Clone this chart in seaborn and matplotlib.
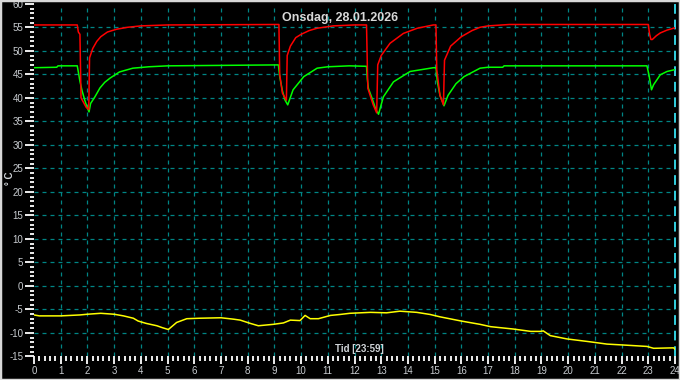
import matplotlib
matplotlib.use("Agg")
import matplotlib.pyplot as plt
import seaborn as sns
import pandas as pd
from matplotlib.ticker import MultipleLocator, FixedLocator
from matplotlib.patches import Rectangle

title = "Onsdag, 28.01.2026"
x_label = "Tid [23:59]"
y_label = "° C"
x_ticks = list(range(0, 25))
y_ticks = list(range(-15, 61, 5))

# Red series (hour, °C)
red_h = [0.0, 1.62, 1.66, 1.72, 1.76, 1.95, 2.05, 2.08, 2.2, 2.35, 2.5, 2.75, 3.1, 3.5, 4.0, 5.0,
         9.17, 9.2, 9.3, 9.45, 9.48, 9.6, 9.8, 10.0, 10.3, 10.6, 11.2, 12.0,
         12.45, 12.48, 12.5, 12.7, 12.83, 12.87, 13.0, 13.33, 13.83, 14.35, 14.95,
         15.05, 15.08, 15.2, 15.33, 15.37, 15.6, 16.0, 16.4, 16.7, 17.0, 17.8,
         23.0, 23.05, 23.1, 23.15, 23.3, 23.45, 23.7, 24.0]
red_v = [55.5, 55.5, 54.0, 53.5, 40.0, 38.0, 37.5, 48.5, 50.5, 52.0, 53.0, 54.0, 54.6, 55.0, 55.3, 55.5,
         55.6, 45.0, 41.0, 39.5, 49.0, 51.0, 52.8, 53.5, 54.3, 54.8, 55.3, 55.5,
         55.5, 47.0, 42.0, 38.5, 36.8, 47.0, 49.0, 51.6, 53.7, 54.8, 55.5,
         55.5, 46.0, 40.5, 38.5, 48.0, 51.0, 53.0, 54.3, 55.0, 55.3, 55.6,
         55.6, 53.5, 52.4, 52.4, 53.2, 53.8, 54.4, 54.9]

# Green series (hour, °C)
green_h = [0.0, 0.85, 0.9, 1.62, 1.66, 1.72, 1.8, 1.9, 2.0, 2.06, 2.12, 2.28, 2.47, 2.65, 2.85, 3.2, 3.7, 4.3, 5.0,
           9.15, 9.2, 9.3, 9.4, 9.5, 9.7, 10.1, 10.6, 11.0, 11.8,
           12.45, 12.48, 12.52, 12.65, 12.8, 12.9, 13.08, 13.46, 14.08, 14.95,
           15.05, 15.1, 15.2, 15.35, 15.5, 15.8, 16.1, 16.7, 17.0, 17.55, 17.6,
           22.95, 23.02, 23.12, 23.2, 23.45, 23.7, 24.0]
green_v = [46.4, 46.5, 46.8, 46.8, 45.5, 43.5, 41.5, 39.5, 37.8, 37.0, 38.8, 40.2, 42.1, 43.3, 44.2, 45.5, 46.3, 46.6, 46.8,
           47.0, 44.5, 41.5, 39.5, 38.5, 41.7, 44.5, 46.3, 46.6, 46.8,
           46.7, 44.0, 42.0, 40.0, 37.5, 36.5, 40.2, 43.4, 45.6, 46.4,
           46.4, 43.5, 40.5, 38.3, 40.5, 43.0, 44.5, 46.3, 46.5, 46.5, 46.8,
           46.8, 45.0, 41.7, 42.8, 44.9, 45.6, 46.0]

# Yellow series, outdoor (hour, °C)
out_h = [0.0, 0.2, 1.0, 1.72, 2.0, 2.5, 3.0, 3.35, 3.72, 3.9, 4.2, 4.6, 4.8, 5.03, 5.34, 5.72, 6.2, 7.0,
         7.47, 7.72, 8.1, 8.4, 8.96, 9.34, 9.6, 9.96, 10.15, 10.34, 10.65, 11.1, 11.46, 11.83, 12.6,
         13.2, 13.7, 14.33, 14.83, 15.2, 16.0, 16.7, 17.1, 17.95, 18.6, 18.95, 19.07, 19.33, 19.95,
         20.8, 21.45, 22.07, 22.95, 23.2, 23.95, 24.0]
out_v = [-6.2, -6.4, -6.4, -6.2, -6.05, -5.85, -6.05, -6.4, -6.9, -7.5, -8.0, -8.5, -8.9, -9.3, -7.8, -7.0, -6.9, -6.8,
         -7.1, -7.3, -8.0, -8.5, -8.2, -7.9, -7.3, -7.4, -6.3, -7.0, -7.0, -6.3, -6.1, -5.85, -5.65,
         -5.75, -5.4, -5.65, -6.1, -6.6, -7.5, -8.2, -8.7, -9.2, -9.7, -9.7, -9.6, -10.6, -11.3,
         -11.9, -12.4, -12.6, -12.9, -13.3, -13.2, -13.5]

W, H = 680, 380
fig = plt.figure(figsize=(6.8, 3.8), dpi=100, facecolor="black")
ax = fig.add_axes([34 / W, 1 - 356.3 / H, 641 / W, 352.5 / H])
ax.set_facecolor("black")

grid_c = "#008585"
for h in range(1, 24):
    ax.axvline(h, color=grid_c, lw=0.9, ls=(0, (3.2, 3.2)), zorder=1)
for v in range(-10, 60, 5):
    ax.axhline(v, color=grid_c, lw=0.9, ls=(0, (3.2, 3.2)), zorder=1)
ax.axvline(24, color="#33d0e0", lw=1.4, ls=(0, (5, 3)), zorder=3, clip_on=False)

df_out = pd.DataFrame({"h": out_h, "v": out_v})
df_red = pd.DataFrame({"h": red_h, "v": red_v})
df_green = pd.DataFrame({"h": green_h, "v": green_v})
sns.lineplot(data=df_out, x="h", y="v", ax=ax, color="#ffff00", lw=1.1, sort=False, estimator=None, zorder=4)
sns.lineplot(data=df_green, x="h", y="v", ax=ax, color="#00ff00", lw=1.1, sort=False, estimator=None, zorder=5)
sns.lineplot(data=df_red, x="h", y="v", ax=ax, color="#ff0000", lw=1.1, sort=False, estimator=None, zorder=6)

ax.set_xlim(0, 24)
ax.set_ylim(-15, 60)
ax.set_xlabel("")
ax.set_ylabel("")
for s in ax.spines.values():
    s.set_visible(False)

ax.xaxis.set_major_locator(FixedLocator(x_ticks))
ax.xaxis.set_minor_locator(MultipleLocator(0.2))
ax.yaxis.set_major_locator(FixedLocator(y_ticks))
ax.yaxis.set_minor_locator(MultipleLocator(1))
ax.set_xticklabels([str(t) for t in x_ticks])
ax.set_yticklabels([str(t) for t in y_ticks])

lab_c = "#c8ccd0"
ax.tick_params(axis="x", which="major", length=5.8, width=1.3, colors="white", labelcolor=lab_c, pad=1, labelsize=7)
ax.tick_params(axis="x", which="minor", length=3.4, width=1.3, colors="white")
ax.tick_params(axis="y", which="major", length=6.7, width=1.3, colors="white", labelcolor=lab_c, pad=1, labelsize=7)
ax.tick_params(axis="y", which="minor", length=3.1, width=1.3, colors="white")
for lbl in ax.get_xticklabels() + ax.get_yticklabels():
    lbl.set_family("Liberation Sans")

fig.text(340 / W, 1 - 18 / H, title, color="#d8d8d8", fontsize=9, family="Liberation Sans",
         fontweight="bold", ha="center", va="center")
fig.text(359 / W, 1 - 348.5 / H, x_label, color="#d0d4d8", fontsize=7, family="Liberation Sans",
         fontweight="bold", ha="center", va="center")
fig.text(10 / W, 1 - 178 / H, y_label, color="#d0d4d8", fontsize=7, family="Liberation Sans",
         fontweight="bold", ha="center", va="center", rotation=90)

fig.patches.append(Rectangle((0, 0), 1, 1, transform=fig.transFigure, fill=False,
                             edgecolor="#d8d8d8", lw=2.5, zorder=10))

fig.savefig("out.png", dpi=100, facecolor="black")
